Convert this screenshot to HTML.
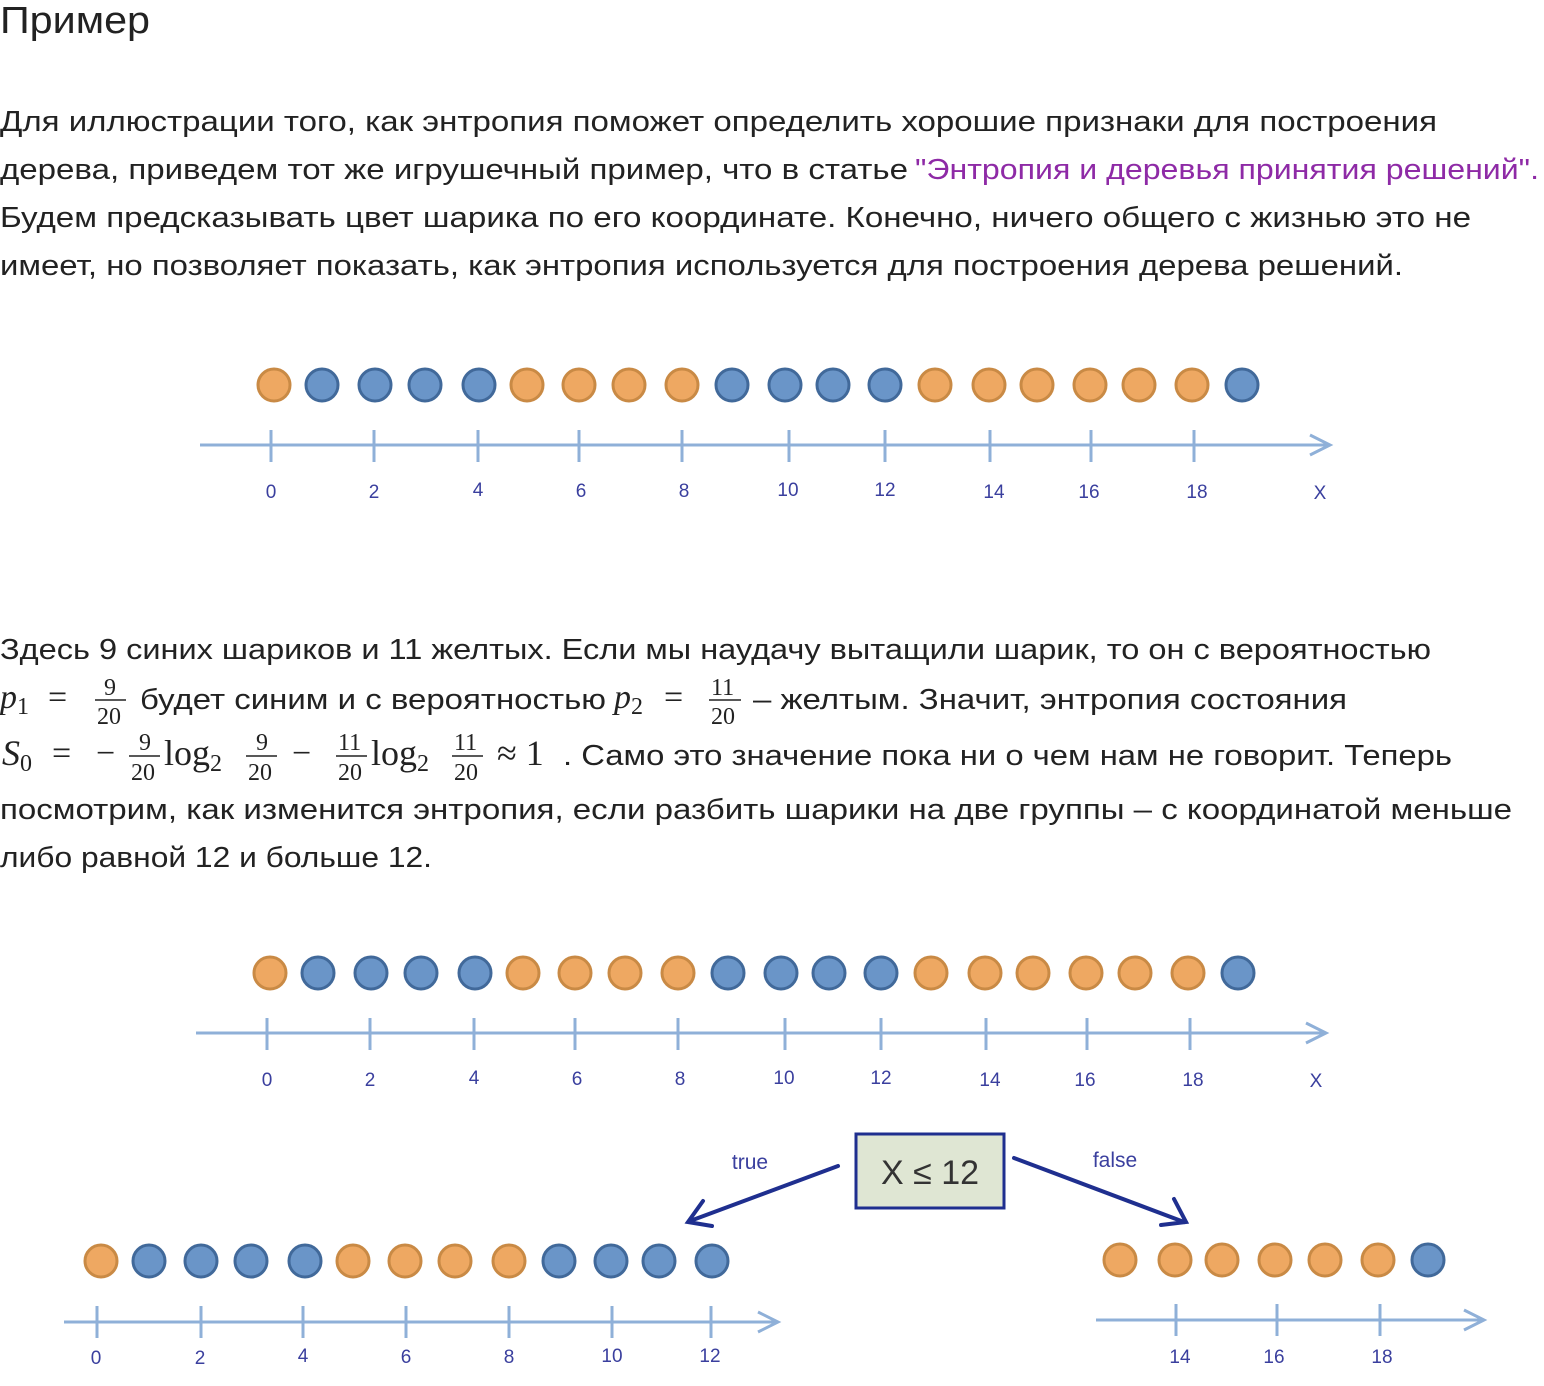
<!DOCTYPE html>
<html><head><meta charset="utf-8"><style>
html,body{margin:0;padding:0;background:#fff;width:1544px;height:1386px;overflow:hidden}
svg{display:block}
.t{font-family:"Liberation Sans","DejaVu Sans",sans-serif;font-size:29px;fill:#222}
.m{font-family:"Liberation Serif",serif;fill:#222}
.l{font-family:"Liberation Sans",sans-serif;font-size:19px;fill:#3a3f9e}
</style></head><body>
<svg width="1544" height="1386" viewBox="0 0 1544 1386" xmlns="http://www.w3.org/2000/svg">
<defs>
<g id="bo"><circle r="16" fill="#eea862" stroke="#c98a45" stroke-width="3"/></g>
<g id="bb"><circle r="16" fill="#6a95c8" stroke="#41699a" stroke-width="3"/></g>
</defs>
<text x="0" y="33" class="t" style="font-size:38px" textLength="150" lengthAdjust="spacingAndGlyphs">Пример</text>
<text x="0" y="131" class="t" textLength="1437" lengthAdjust="spacingAndGlyphs">Для иллюстрации того, как энтропия поможет определить хорошие признаки для построения</text>
<text x="0" y="179" class="t" textLength="908" lengthAdjust="spacingAndGlyphs">дерева, приведем тот же игрушечный пример, что в статье</text>
<text x="915" y="179" class="t" style="fill:#8e2aa6" textLength="624" lengthAdjust="spacingAndGlyphs">"Энтропия и деревья принятия решений".</text>
<text x="0" y="227" class="t" textLength="1471" lengthAdjust="spacingAndGlyphs">Будем предсказывать цвет шарика по его координате. Конечно, ничего общего с жизнью это не</text>
<text x="0" y="275" class="t" textLength="1403" lengthAdjust="spacingAndGlyphs">имеет, но позволяет показать, как энтропия используется для построения дерева решений.</text>

<text x="0" y="659" class="t" textLength="1431" lengthAdjust="spacingAndGlyphs">Здесь 9 синих шариков и 11 желтых. Если мы наудачу вытащили шарик, то он с вероятностью</text>
<text x="0" y="708" class="m" style="font-size:34px;font-style:italic">p<tspan font-size="24" font-style="normal" dy="6">1</tspan></text>
<text x="48" y="708" class="m" style="font-size:34px">=</text>
<text x="104" y="695" class="m" style="font-size:24px">9</text>
<line x1="95" y1="700" x2="126" y2="700" stroke="#222" stroke-width="1.5"/>
<text x="97" y="724" class="m" style="font-size:24px">20</text>
<text x="140" y="709" class="t" textLength="466" lengthAdjust="spacingAndGlyphs">будет синим и с вероятностью</text>
<text x="614" y="708" class="m" style="font-size:34px;font-style:italic">p<tspan font-size="24" font-style="normal" dy="6">2</tspan></text>
<text x="664" y="708" class="m" style="font-size:34px">=</text>
<text x="711" y="695" class="m" style="font-size:24px">11</text>
<line x1="709" y1="700" x2="741" y2="700" stroke="#222" stroke-width="1.5"/>
<text x="711" y="724" class="m" style="font-size:24px">20</text>
<text x="753" y="709" class="t" textLength="594" lengthAdjust="spacingAndGlyphs">– желтым. Значит, энтропия состояния</text>
<text x="2" y="765" class="m" style="font-size:36px;font-style:italic">S<tspan font-size="24" font-style="normal" dy="6">0</tspan></text>
<text x="52" y="764" class="m" style="font-size:34px">=</text>
<text x="96" y="764" class="m" style="font-size:34px">−</text>
<text x="139" y="750" class="m" style="font-size:24px">9</text>
<line x1="129" y1="756" x2="160" y2="756" stroke="#222" stroke-width="1.5"/>
<text x="131" y="780" class="m" style="font-size:24px">20</text>
<text x="164" y="765" class="m" style="font-size:36px">log<tspan font-size="24" dy="6">2</tspan></text>
<text x="256" y="750" class="m" style="font-size:24px">9</text>
<line x1="246" y1="756" x2="277" y2="756" stroke="#222" stroke-width="1.5"/>
<text x="248" y="780" class="m" style="font-size:24px">20</text>
<text x="292" y="764" class="m" style="font-size:34px">−</text>
<text x="338" y="750" class="m" style="font-size:24px">11</text>
<line x1="336" y1="756" x2="367" y2="756" stroke="#222" stroke-width="1.5"/>
<text x="338" y="780" class="m" style="font-size:24px">20</text>
<text x="371" y="765" class="m" style="font-size:36px">log<tspan font-size="24" dy="6">2</tspan></text>
<text x="454" y="750" class="m" style="font-size:24px">11</text>
<line x1="452" y1="756" x2="483" y2="756" stroke="#222" stroke-width="1.5"/>
<text x="454" y="780" class="m" style="font-size:24px">20</text>
<text x="497" y="765" class="m" style="font-size:36px">≈ 1</text>
<text x="563" y="765" class="t" textLength="889" lengthAdjust="spacingAndGlyphs">. Само это значение пока ни о чем нам не говорит. Теперь</text>
<text x="0" y="819" class="t" textLength="1512" lengthAdjust="spacingAndGlyphs">посмотрим, как изменится энтропия, если разбить шарики на две группы – с координатой меньше</text>
<text x="0" y="867" class="t" textLength="432" lengthAdjust="spacingAndGlyphs">либо равной 12 и больше 12.</text>

<g id="d1">
<g stroke="#8fb0d8" stroke-width="3" fill="none">
<line x1="200" y1="445" x2="1328" y2="445"/>
<polyline points="1310,435 1330,445 1310,455"/>
<line x1="271" y1="430" x2="271" y2="462"/><line x1="374" y1="430" x2="374" y2="462"/>
<line x1="478" y1="430" x2="478" y2="462"/><line x1="579" y1="430" x2="579" y2="462"/>
<line x1="682" y1="430" x2="682" y2="462"/><line x1="789" y1="430" x2="789" y2="462"/>
<line x1="885" y1="430" x2="885" y2="462"/><line x1="990" y1="430" x2="990" y2="462"/>
<line x1="1091" y1="430" x2="1091" y2="462"/><line x1="1194" y1="430" x2="1194" y2="462"/>
</g>
<g class="l" text-anchor="middle">
<text x="271" y="498">0</text><text x="374" y="498">2</text><text x="478" y="496">4</text>
<text x="581" y="497">6</text><text x="684" y="497">8</text><text x="788" y="496">10</text>
<text x="885" y="496">12</text><text x="994" y="498">14</text><text x="1089" y="498">16</text>
<text x="1197" y="498">18</text><text x="1320" y="499">X</text>
</g>
<use href="#bo" x="274" y="385"/><use href="#bb" x="322" y="385"/><use href="#bb" x="375" y="385"/>
<use href="#bb" x="425" y="385"/><use href="#bb" x="479" y="385"/><use href="#bo" x="527" y="385"/>
<use href="#bo" x="579" y="385"/><use href="#bo" x="629" y="385"/><use href="#bo" x="682" y="385"/>
<use href="#bb" x="732" y="385"/><use href="#bb" x="785" y="385"/><use href="#bb" x="833" y="385"/>
<use href="#bb" x="885" y="385"/><use href="#bo" x="935" y="385"/><use href="#bo" x="989" y="385"/>
<use href="#bo" x="1037" y="385"/><use href="#bo" x="1090" y="385"/><use href="#bo" x="1139" y="385"/>
<use href="#bo" x="1192" y="385"/><use href="#bb" x="1242" y="385"/>
</g>
<use href="#d1" x="-4" y="588"/>

<rect x="856" y="1134" width="148" height="74" fill="#dfe6d3" stroke="#1f2f8f" stroke-width="3"/>
<text x="930" y="1184" text-anchor="middle" style="font-family:'Liberation Sans',sans-serif;font-size:34px;fill:#333">X ≤ 12</text>
<g stroke="#1f2f8f" stroke-width="4" fill="none" stroke-linecap="round">
<line x1="838" y1="1166" x2="690" y2="1221"/>
<polyline points="703,1201 688,1222 712,1226"/>
<line x1="1014" y1="1158" x2="1184" y2="1222"/>
<polyline points="1174,1199 1186,1222 1161,1225"/>
</g>
<text x="750" y="1169" class="l" text-anchor="middle" style="font-size:21px">true</text>
<text x="1115" y="1167" class="l" text-anchor="middle" style="font-size:21px">false</text>

<g stroke="#8fb0d8" stroke-width="3" fill="none">
<line x1="64" y1="1322" x2="776" y2="1322"/>
<polyline points="758,1312 778,1322 758,1332"/>
<line x1="97" y1="1306" x2="97" y2="1338"/><line x1="201" y1="1306" x2="201" y2="1338"/>
<line x1="303" y1="1306" x2="303" y2="1338"/><line x1="406" y1="1306" x2="406" y2="1338"/>
<line x1="509" y1="1306" x2="509" y2="1338"/><line x1="612" y1="1306" x2="612" y2="1338"/>
<line x1="711" y1="1306" x2="711" y2="1338"/>
<line x1="1096" y1="1320" x2="1482" y2="1320"/>
<polyline points="1464,1310 1484,1320 1464,1330"/>
<line x1="1176" y1="1304" x2="1176" y2="1336"/><line x1="1277" y1="1304" x2="1277" y2="1336"/>
<line x1="1380" y1="1304" x2="1380" y2="1336"/>
</g>
<g class="l" text-anchor="middle">
<text x="96" y="1364">0</text><text x="200" y="1364">2</text><text x="303" y="1362">4</text>
<text x="406" y="1363">6</text><text x="509" y="1363">8</text><text x="612" y="1362">10</text>
<text x="710" y="1362">12</text>
<text x="1180" y="1363">14</text><text x="1274" y="1363">16</text><text x="1382" y="1363">18</text>
</g>
<use href="#bo" x="101" y="1261"/><use href="#bb" x="149" y="1261"/><use href="#bb" x="201" y="1261"/>
<use href="#bb" x="251" y="1261"/><use href="#bb" x="305" y="1261"/><use href="#bo" x="353" y="1261"/>
<use href="#bo" x="405" y="1261"/><use href="#bo" x="455" y="1261"/><use href="#bo" x="509" y="1261"/>
<use href="#bb" x="559" y="1261"/><use href="#bb" x="611" y="1261"/><use href="#bb" x="659" y="1261"/>
<use href="#bb" x="712" y="1261"/>
<use href="#bo" x="1120" y="1260"/><use href="#bo" x="1175" y="1260"/><use href="#bo" x="1222" y="1260"/>
<use href="#bo" x="1275" y="1260"/><use href="#bo" x="1325" y="1260"/><use href="#bo" x="1378" y="1260"/>
<use href="#bb" x="1428" y="1260"/>
</svg>
</body></html>
